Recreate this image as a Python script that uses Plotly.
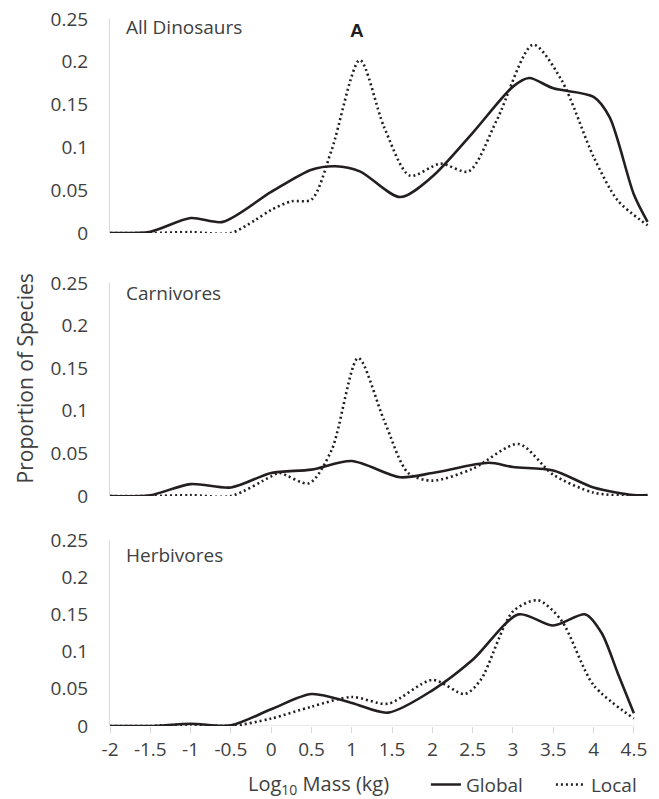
import plotly.graph_objects as go
from plotly.subplots import make_subplots

# ---- data ----
all_global_x = [-2, -1.5, -1, -0.6, 0, 0.5, 0.8, 1.1, 1.6, 2.0, 2.5, 3.0, 3.2, 3.5, 4.0, 4.2, 4.5, 4.67]
all_global_y = [0, 0.0015, 0.0175, 0.013, 0.048, 0.074, 0.078, 0.072, 0.042, 0.066, 0.117, 0.171, 0.181, 0.169, 0.159, 0.135, 0.045, 0.013]
all_local_x = [-2, -1.5, -1, -0.5, -0.2, 0, 0.25, 0.5, 0.75, 1.1, 1.4, 1.72, 2.1, 2.45, 2.8, 3.25, 3.6, 4.0, 4.3, 4.67]
all_local_y = [0, 0, 0.001, 0, 0.015, 0.027, 0.037, 0.039, 0.097, 0.202, 0.124, 0.067, 0.081, 0.072, 0.132, 0.22, 0.179, 0.089, 0.038, 0.009]

carn_global_x = [-2, -1.5, -1, -0.5, 0, 0.5, 1.0, 1.6, 2.0, 2.7, 3.0, 3.5, 4.0, 4.5, 4.67]
carn_global_y = [0, 0.001, 0.014, 0.010, 0.027, 0.031, 0.041, 0.022, 0.027, 0.039, 0.034, 0.030, 0.010, 0.001, 0.001]
carn_local_x = [-2, -1.5, -1, -0.5, 0, 0.1, 0.47, 0.75, 1.08, 1.4, 1.7, 2.0, 2.5, 3.07, 3.5, 4.0, 4.5, 4.67]
carn_local_y = [0, 0, 0.001, 0, 0.023, 0.027, 0.015, 0.054, 0.162, 0.089, 0.027, 0.018, 0.032, 0.061, 0.025, 0.004, 0.0, 0.0]

herb_global_x = [-2, -1.5, -1, -0.5, 0, 0.5, 1.0, 1.45, 2.0, 2.5, 3.07, 3.5, 3.9, 4.1, 4.3, 4.5]
herb_global_y = [0, 0, 0.003, 0.001, 0.0225, 0.043, 0.031, 0.018, 0.048, 0.089, 0.15, 0.135, 0.15, 0.125, 0.071, 0.017]
herb_local_x = [-2, -1.5, -1, -0.5, 0, 0.5, 1.0, 1.45, 2.0, 2.4, 2.6, 3.0, 3.31, 3.6, 4.0, 4.5]
herb_local_y = [0, 0, 0.002, 0, 0.010, 0.026, 0.039, 0.030, 0.062, 0.043, 0.062, 0.154, 0.169, 0.142, 0.055, 0.01]

panel_titles = ["All Dinosaurs", "Carnivores", "Herbivores"]
y_tickvals = [0, 0.05, 0.1, 0.15, 0.2, 0.25]
y_ticktext = ["0", "0.05", "0.1", "0.15", "0.2", "0.25"]
x_tickvals = [-2, -1.5, -1, -0.5, 0, 0.5, 1, 1.5, 2, 2.5, 3, 3.5, 4, 4.5]
x_ticktext = ["-2", "-1.5", "-1", "-0.5", "0", "0.5", "1", "1.5", "2", "2.5", "3", "3.5", "4", "4.5"]

series = [
    (all_global_x, all_global_y, all_local_x, all_local_y),
    (carn_global_x, carn_global_y, carn_local_x, carn_local_y),
    (herb_global_x, herb_global_y, herb_local_x, herb_local_y),
]

LINE = "#231f20"
TXT = "#404040"
FONT = "Open Sans"
TICKSIZE = 19

fig = make_subplots(rows=3, cols=1)

for i, (gx, gy, lx, ly) in enumerate(series):
    r = i + 1
    fig.add_trace(go.Scatter(x=gx, y=gy, mode="lines", name="Global",
                             line=dict(color=LINE, width=2.6, shape="spline", smoothing=0.8),
                             showlegend=(i == 0)), row=r, col=1)
    fig.add_trace(go.Scatter(x=lx, y=ly, mode="lines", name="Local",
                             line=dict(color=LINE, width=2.6, shape="spline", smoothing=0.8,
                                       dash="2px,3px"),
                             showlegend=(i == 0)), row=r, col=1)

domains = [[0.6973, 1.0], [0.3253, 0.6266], [0.0, 0.2631]]
for i in range(3):
    yname = "yaxis" if i == 0 else f"yaxis{i+1}"
    xname = "xaxis" if i == 0 else f"xaxis{i+1}"
    fig.layout[yname].update(domain=domains[i], range=[0, 0.25], tickvals=y_tickvals,
                             ticktext=y_ticktext, showgrid=False, zeroline=False,
                             showline=True, linecolor="#d9d9d9", linewidth=1,
                             ticks="", ticklabelstandoff=17, ticklabeloverflow="allow",
                             tickfont=dict(family=FONT, size=TICKSIZE, color=TXT))
    bottom = (i == 2)
    fig.layout[xname].update(range=[-2, 4.7], showgrid=False, zeroline=False,
                             showline=False, showticklabels=bottom,
                             tickvals=x_tickvals, ticktext=x_ticktext,
                             ticks="outside" if bottom else "", ticklen=6,
                             tickcolor="#d9d9d9", tickwidth=1, tickangle=0,
                             ticklabeloverflow="allow",
                             tickfont=dict(family=FONT, size=TICKSIZE, color=TXT))

# bottom x axis line (ends at last tick)
fig.add_shape(type="line", xref="x3", yref="y3", x0=-2, x1=4.5, y0=0, y1=0,
              line=dict(color="#d9d9d9", width=1), layer="below")

ann_y = [0.963, 0.953, 0.919]
for i, t in enumerate(panel_titles):
    xr = "x domain" if i == 0 else f"x{i+1} domain"
    yr = "y domain" if i == 0 else f"y{i+1} domain"
    fig.add_annotation(text=t, xref=xr, yref=yr, x=0.026, y=ann_y[i],
                       xanchor="left", yanchor="middle", showarrow=False,
                       font=dict(family=FONT, size=19, color=TXT))

fig.add_annotation(text="<b>A</b>", xref="x", yref="y", x=1.07, y=0.236,
                   showarrow=False, font=dict(family="Liberation Sans", size=19, color=LINE))

fig.add_annotation(text="Proportion of Species", xref="paper", yref="paper",
                   x=-0.157, y=0.492, textangle=-90, showarrow=False,
                   xanchor="center", yanchor="middle",
                   font=dict(family=FONT, size=21, color=TXT))

fig.add_annotation(text="Log<sub>10</sub> Mass (kg)", xref="paper", yref="paper",
                   x=0.387, y=-0.083, showarrow=False, xanchor="center", yanchor="middle",
                   font=dict(family=FONT, size=20, color=TXT))

fig.update_layout(
    width=659, height=799,
    margin=dict(l=102, r=17, t=11, b=81, autoexpand=False),
    paper_bgcolor="white", plot_bgcolor="white",
    legend=dict(orientation="h", x=0.585, y=-0.083, xanchor="left", yanchor="middle",
                font=dict(family=FONT, size=19, color=TXT), bgcolor="rgba(0,0,0,0)",
                itemwidth=30, tracegroupgap=0, entrywidth=80, entrywidthmode="pixels"),
)

fig.write_html("out.html")
